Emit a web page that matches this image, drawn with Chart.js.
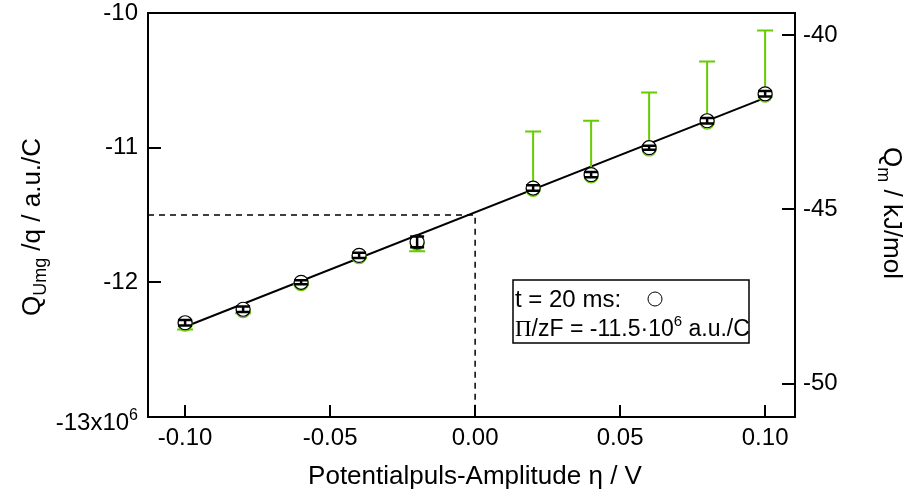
<!DOCTYPE html>
<html lang="en">
<head>
<meta charset="UTF-8" />
<title>Q vs Potentialpuls-Amplitude</title>
<script src="https://cdn.jsdelivr.net/npm/chart.js"></script>
<style>
  html, body { margin: 0; padding: 0; background: #fff; }
</style>
</head>
<body>
<canvas id="qChart" width="913" height="498"></canvas>
<script>
// data (left axis in 10^6 a.u./C)
const amplitudes = [-0.10, -0.08, -0.06, -0.04, -0.02, 0.02, 0.04, 0.06, 0.08, 0.10];
const qBlack = [-12.30, -12.20, -12.00, -11.80, -11.70, -11.30, -11.20, -11.00, -10.80, -10.60];
const qBlackErr = [0.02, 0.02, 0.015, 0.02, 0.04, 0.02, 0.02, 0.015, 0.02, 0.02];
const qGreen = [-12.31, -12.21, -12.01, -11.81, -11.71, -11.31, -11.21, -11.01, -10.81, -10.61];
const greenEnd = [-12.35, -12.23, -12.02, -11.82, -11.77, -10.88, -10.80, -10.59, -10.36, -10.13];
const fitX = [-0.10, 0.10];
const fitY = [-12.33, -10.63];
const guideX = [-0.1128, 0, 0];
const guideY = [-11.5, -11.5, -13];
const xTicks = [-0.10, -0.05, 0.00, 0.05, 0.10];
const leftTicks = [-13, -12, -11, -10];
const rightTicks = [-50, -45, -40];

const FONT = '"Liberation Sans", Arial, sans-serif';
const GREEN = '#66cc00';

function pts(xs, ys) {
  return xs.map((x, i) => ({ x: x, y: ys[i] }));
}

function bar(ctx, x, y1, y2, half) {
  ctx.beginPath();
  ctx.moveTo(x, y1); ctx.lineTo(x, y2);
  ctx.moveTo(x - half, y1); ctx.lineTo(x + half, y1);
  ctx.moveTo(x - half, y2); ctx.lineTo(x + half, y2);
  ctx.stroke();
}

// text with sub/superscript pieces: [text, font, dy]
function pieces(ctx, parts, x, y) {
  parts.forEach(p => {
    ctx.font = p[1];
    ctx.fillText(p[0], x, y + p[2]);
    x += ctx.measureText(p[0]).width;
  });
  return x;
}
function piecesWidth(ctx, parts) {
  let w = 0;
  parts.forEach(p => { ctx.font = p[1]; w += ctx.measureText(p[0]).width; });
  return w;
}

const tickFont = '24px ' + FONT;
const tickSup = '16px ' + FONT;
const titleFont = '26px ' + FONT;
const titleSub = '18px ' + FONT;
const legFont = '23px ' + FONT;
const legSup = '15px ' + FONT;

function noPad(s) {
  s.paddingTop = 0; s.paddingBottom = 0;
  s.paddingLeft = 0; s.paddingRight = 0;
}

const framePlugin = {
  id: 'frame',
  beforeDatasetDraw(chart, args) {
    if (args.index !== 1) return;
    const ctx = chart.ctx, xs = chart.scales.x, ys = chart.scales.y;
    ctx.save();
    ctx.strokeStyle = GREEN;
    ctx.lineWidth = 2;
    amplitudes.forEach((a, i) => {
      const px = xs.getPixelForValue(a);
      const y0 = ys.getPixelForValue(qGreen[i]);
      const y1 = ys.getPixelForValue(greenEnd[i]);
      ctx.beginPath();
      ctx.moveTo(px, y0); ctx.lineTo(px, y1);
      ctx.moveTo(px - 8, y1); ctx.lineTo(px + 8, y1);
      ctx.stroke();
    });
    ctx.restore();
  },
  afterDatasetsDraw(chart) {
    const ctx = chart.ctx, xs = chart.scales.x, ys = chart.scales.y;
    ctx.save();
    ctx.strokeStyle = '#000';
    ctx.lineWidth = 2.5;
    amplitudes.forEach((a, i) => {
      const px = xs.getPixelForValue(a);
      bar(ctx, px, ys.getPixelForValue(qBlack[i] + qBlackErr[i]),
        ys.getPixelForValue(qBlack[i] - qBlackErr[i]), 7);
    });
    ctx.restore();
  },
  afterDraw(chart) {
    const ctx = chart.ctx, a = chart.chartArea;
    const xs = chart.scales.x, ys = chart.scales.y, y2 = chart.scales.y2;
    ctx.save();
    ctx.strokeStyle = '#000';
    ctx.lineWidth = 2;
    ctx.strokeRect(a.left, a.top, a.right - a.left, a.bottom - a.top);
    ctx.beginPath();
    xTicks.forEach(v => {
      const p = Math.round(xs.getPixelForValue(v));
      ctx.moveTo(p, a.bottom); ctx.lineTo(p, a.bottom - 12);
    });
    leftTicks.forEach(v => {
      const p = Math.round(ys.getPixelForValue(v));
      ctx.moveTo(a.left, p); ctx.lineTo(a.left + 13, p);
    });
    rightTicks.forEach(v => {
      const p = Math.round(y2.getPixelForValue(v));
      ctx.moveTo(a.right, p); ctx.lineTo(a.right - 13, p);
    });
    ctx.stroke();

    ctx.fillStyle = '#000';
    ctx.textAlign = 'left';
    ctx.textBaseline = 'alphabetic';

    // bottom left tick label with exponent
    const lab = [['-13x10', tickFont, 0], ['6', tickSup, -10]];
    pieces(ctx, lab, 138 - piecesWidth(ctx, lab), 430);

    // x title
    const xt = [['Potentialpuls-Amplitude \u03B7 / V', titleFont, 0]];
    pieces(ctx, xt, 475 - piecesWidth(ctx, xt) / 2, 484);

    // left title
    const lt = [['Q', titleFont, 0], ['Umg', titleSub, 6], [' /q / a.u./C', titleFont, 0]];
    ctx.save();
    ctx.translate(40, 227);
    ctx.rotate(-Math.PI / 2);
    pieces(ctx, lt, -piecesWidth(ctx, lt) / 2, 0);
    ctx.restore();

    // right title
    const rt = [['Q', titleFont, 0], ['m', titleSub, 6], [' / kJ/mol', titleFont, 0]];
    ctx.save();
    ctx.translate(884, 213);
    ctx.rotate(Math.PI / 2);
    pieces(ctx, rt, -piecesWidth(ctx, rt) / 2, 0);
    ctx.restore();

    // legend box
    ctx.lineWidth = 1.5;
    ctx.strokeRect(513, 280, 236, 63);
    pieces(ctx, [['t = 20 ms:', '24px ' + FONT, 0]], 515, 307);
    ctx.lineWidth = 1;
    ctx.beginPath();
    ctx.arc(655, 299, 7, 0, Math.PI * 2);
    ctx.stroke();
    pieces(ctx, [['\u03A0', '23px "Liberation Serif", serif', 0], ['/zF = -11.5\u00B710', legFont, 0],
      ['6', legSup, -10], [' a.u./C', legFont, 0]], 515, 336);
    ctx.restore();
  }
};

const ctx = document.getElementById('qChart').getContext('2d');
new Chart(ctx, {
  type: 'scatter',
  data: {
    datasets: [{
      label: 'Q black',
      data: pts(amplitudes, qBlack),
      pointStyle: 'circle',
      pointRadius: 7,
      pointBorderWidth: 1.2,
      borderColor: '#000',
      backgroundColor: '#fff',
      order: 0
    }, {
      label: 'Q green',
      data: pts(amplitudes, qGreen),
      pointStyle: 'circle',
      pointRadius: 7,
      pointBorderWidth: 1.2,
      borderColor: GREEN,
      backgroundColor: 'rgba(0,0,0,0)',
      order: 1
    }, {
      label: 'guide',
      data: pts(guideX, guideY),
      showLine: true,
      borderColor: '#000',
      borderWidth: 1.5,
      borderDash: [6, 5],
      pointRadius: 0,
      order: 2
    }, {
      label: 'fit',
      data: pts(fitX, fitY),
      showLine: true,
      borderColor: '#000',
      borderWidth: 2,
      pointRadius: 0,
      order: 3
    }]
  },
  options: {
    responsive: false,
    animation: false,
    layout: { padding: { top: 13, left: 0, right: 0, bottom: 0 } },
    plugins: { legend: { display: false }, tooltip: { enabled: false } },
    scales: {
      x: {
        type: 'linear', min: -0.1128, max: 0.1103,
        grid: { display: false, drawTicks: false }, border: { display: false },
        afterBuildTicks: s => { s.ticks = xTicks.map(v => ({ value: v })); },
        afterFit: s => { s.height = 81; noPad(s); },
        ticks: { padding: 7, color: '#000', font: { family: FONT, size: 24 },
          maxRotation: 0, autoSkip: false, callback: v => v.toFixed(2) }
      },
      y: {
        type: 'linear', position: 'left', min: -13, max: -10,
        grid: { display: false, drawTicks: false }, border: { display: false },
        afterBuildTicks: s => { s.ticks = leftTicks.map(v => ({ value: v })); },
        afterFit: s => { s.width = 148; noPad(s); },
        ticks: { padding: 10, color: '#000', font: { family: FONT, size: 24 },
          callback: v => v === -13 ? '' : String(v) }
      },
      y2: {
        type: 'linear', position: 'right', min: -50.95, max: -39.37,
        grid: { display: false, drawTicks: false }, border: { display: false },
        afterBuildTicks: s => { s.ticks = rightTicks.map(v => ({ value: v })); },
        afterFit: s => { s.width = 118; noPad(s); },
        ticks: { padding: 8, color: '#000', font: { family: FONT, size: 24 },
          callback: v => String(v) }
      }
    }
  },
  plugins: [framePlugin]
});
</script>
</body>
</html>
